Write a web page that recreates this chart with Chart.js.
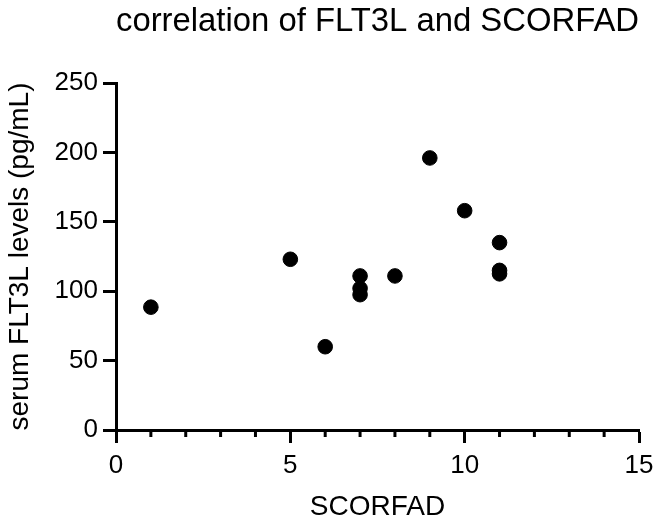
<!DOCTYPE html>
<html>
<head>
<meta charset="utf-8">
<script src="https://cdn.jsdelivr.net/npm/chart.js@4"></script>
<style>
  html, body { margin: 0; padding: 0; background: #fff; }
  #wrap { width: 656px; height: 523px; }
</style>
</head>
<body>
<div id="wrap"><canvas id="chart1" width="656" height="523"></canvas></div>
<script>
// SCORFAD score vs serum FLT3L
const scorfad = [1, 5, 6, 7, 7, 7, 8, 9, 10, 11, 11, 11];
const flt3l = [88.5, 123, 60, 111, 102, 97.5, 111, 196, 158, 135, 115, 112.5];
const xTicks = [0, 5, 10, 15];
const yTicks = [0, 50, 100, 150, 200, 250];
const xMinor = [1, 2, 3, 4, 6, 7, 8, 9, 11, 12, 13, 14];

const points = scorfad.map((x, i) => ({ x: x, y: flt3l[i] }));

// short ticks at each integer on the x axis
const minorTicks = {
  id: 'minorTicks',
  afterDraw(chart) {
    const xs = chart.scales.x;
    const c = chart.ctx;
    const y0 = chart.chartArea.bottom;
    c.save();
    c.strokeStyle = '#000';
    c.lineWidth = 3;
    xMinor.forEach(v => {
      const px = xs.getPixelForValue(v);
      c.beginPath();
      c.moveTo(px, y0);
      c.lineTo(px, y0 + 7);
      c.stroke();
    });
    c.restore();
  }
};

const ctx1 = document.getElementById('chart1').getContext('2d');
const chart1 = new Chart(ctx1, {
  type: 'scatter',
  data: {
    datasets: [{
      data: points,
      backgroundColor: '#000',
      borderColor: '#000',
      pointRadius: 7.3,
      pointHoverRadius: 7.3
    }]
  },
  options: {
    responsive: false,
    animation: false,
    layout: { padding: { left: 0, right: 17, top: 0, bottom: 0 } },
    plugins: {
      legend: { display: false },
      tooltip: { enabled: false },
      title: {
        display: true,
        text: 'correlation of FLT3L and SCORFAD',
        color: '#000',
        fullSize: false,
        font: { family: 'Liberation Sans, Arial, sans-serif', size: 34, weight: 'normal', lineHeight: 1.2 },
        padding: { top: 1, bottom: 41.2 }
      }
    },
    scales: {
      x: {
        type: 'linear',
        min: 0,
        max: 15,
        afterBuildTicks: s => { s.ticks = xTicks.map(v => ({ value: v })); },
        afterFit: s => { s.height = 93; s.paddingRight = 0; },
        border: { color: '#000', width: 3 },
        grid: { drawOnChartArea: false, drawTicks: true, tickLength: 13, tickWidth: 3, tickColor: '#000' },
        ticks: {
          color: '#000',
          padding: 7,
          font: { family: 'Liberation Sans, Arial, sans-serif', size: 26 },
          maxRotation: 0
        },
        title: {
          display: true,
          text: 'SCORFAD',
          color: '#000',
          font: { family: 'Liberation Sans, Arial, sans-serif', size: 28, lineHeight: 1.2 },
          padding: { top: 0, bottom: -1 }
        }
      },
      y: {
        type: 'linear',
        min: 0,
        max: 250,
        afterBuildTicks: s => { s.ticks = yTicks.map(v => ({ value: v })); },
        afterFit: s => { s.width = 116; },
        border: { color: '#000', width: 3 },
        grid: { drawOnChartArea: false, drawTicks: true, tickLength: 13, tickWidth: 3, tickColor: '#000' },
        ticks: {
          color: '#000',
          padding: 5,
          font: { family: 'Liberation Sans, Arial, sans-serif', size: 26 }
        },
        title: {
          display: true,
          text: 'serum FLT3L levels (pg/mL)',
          color: '#000',
          font: { family: 'Liberation Sans, Arial, sans-serif', size: 28, lineHeight: 1.2 },
          padding: { top: 3, bottom: 0 }
        }
      }
    }
  },
  plugins: [minorTicks]
});
</script>
</body>
</html>
